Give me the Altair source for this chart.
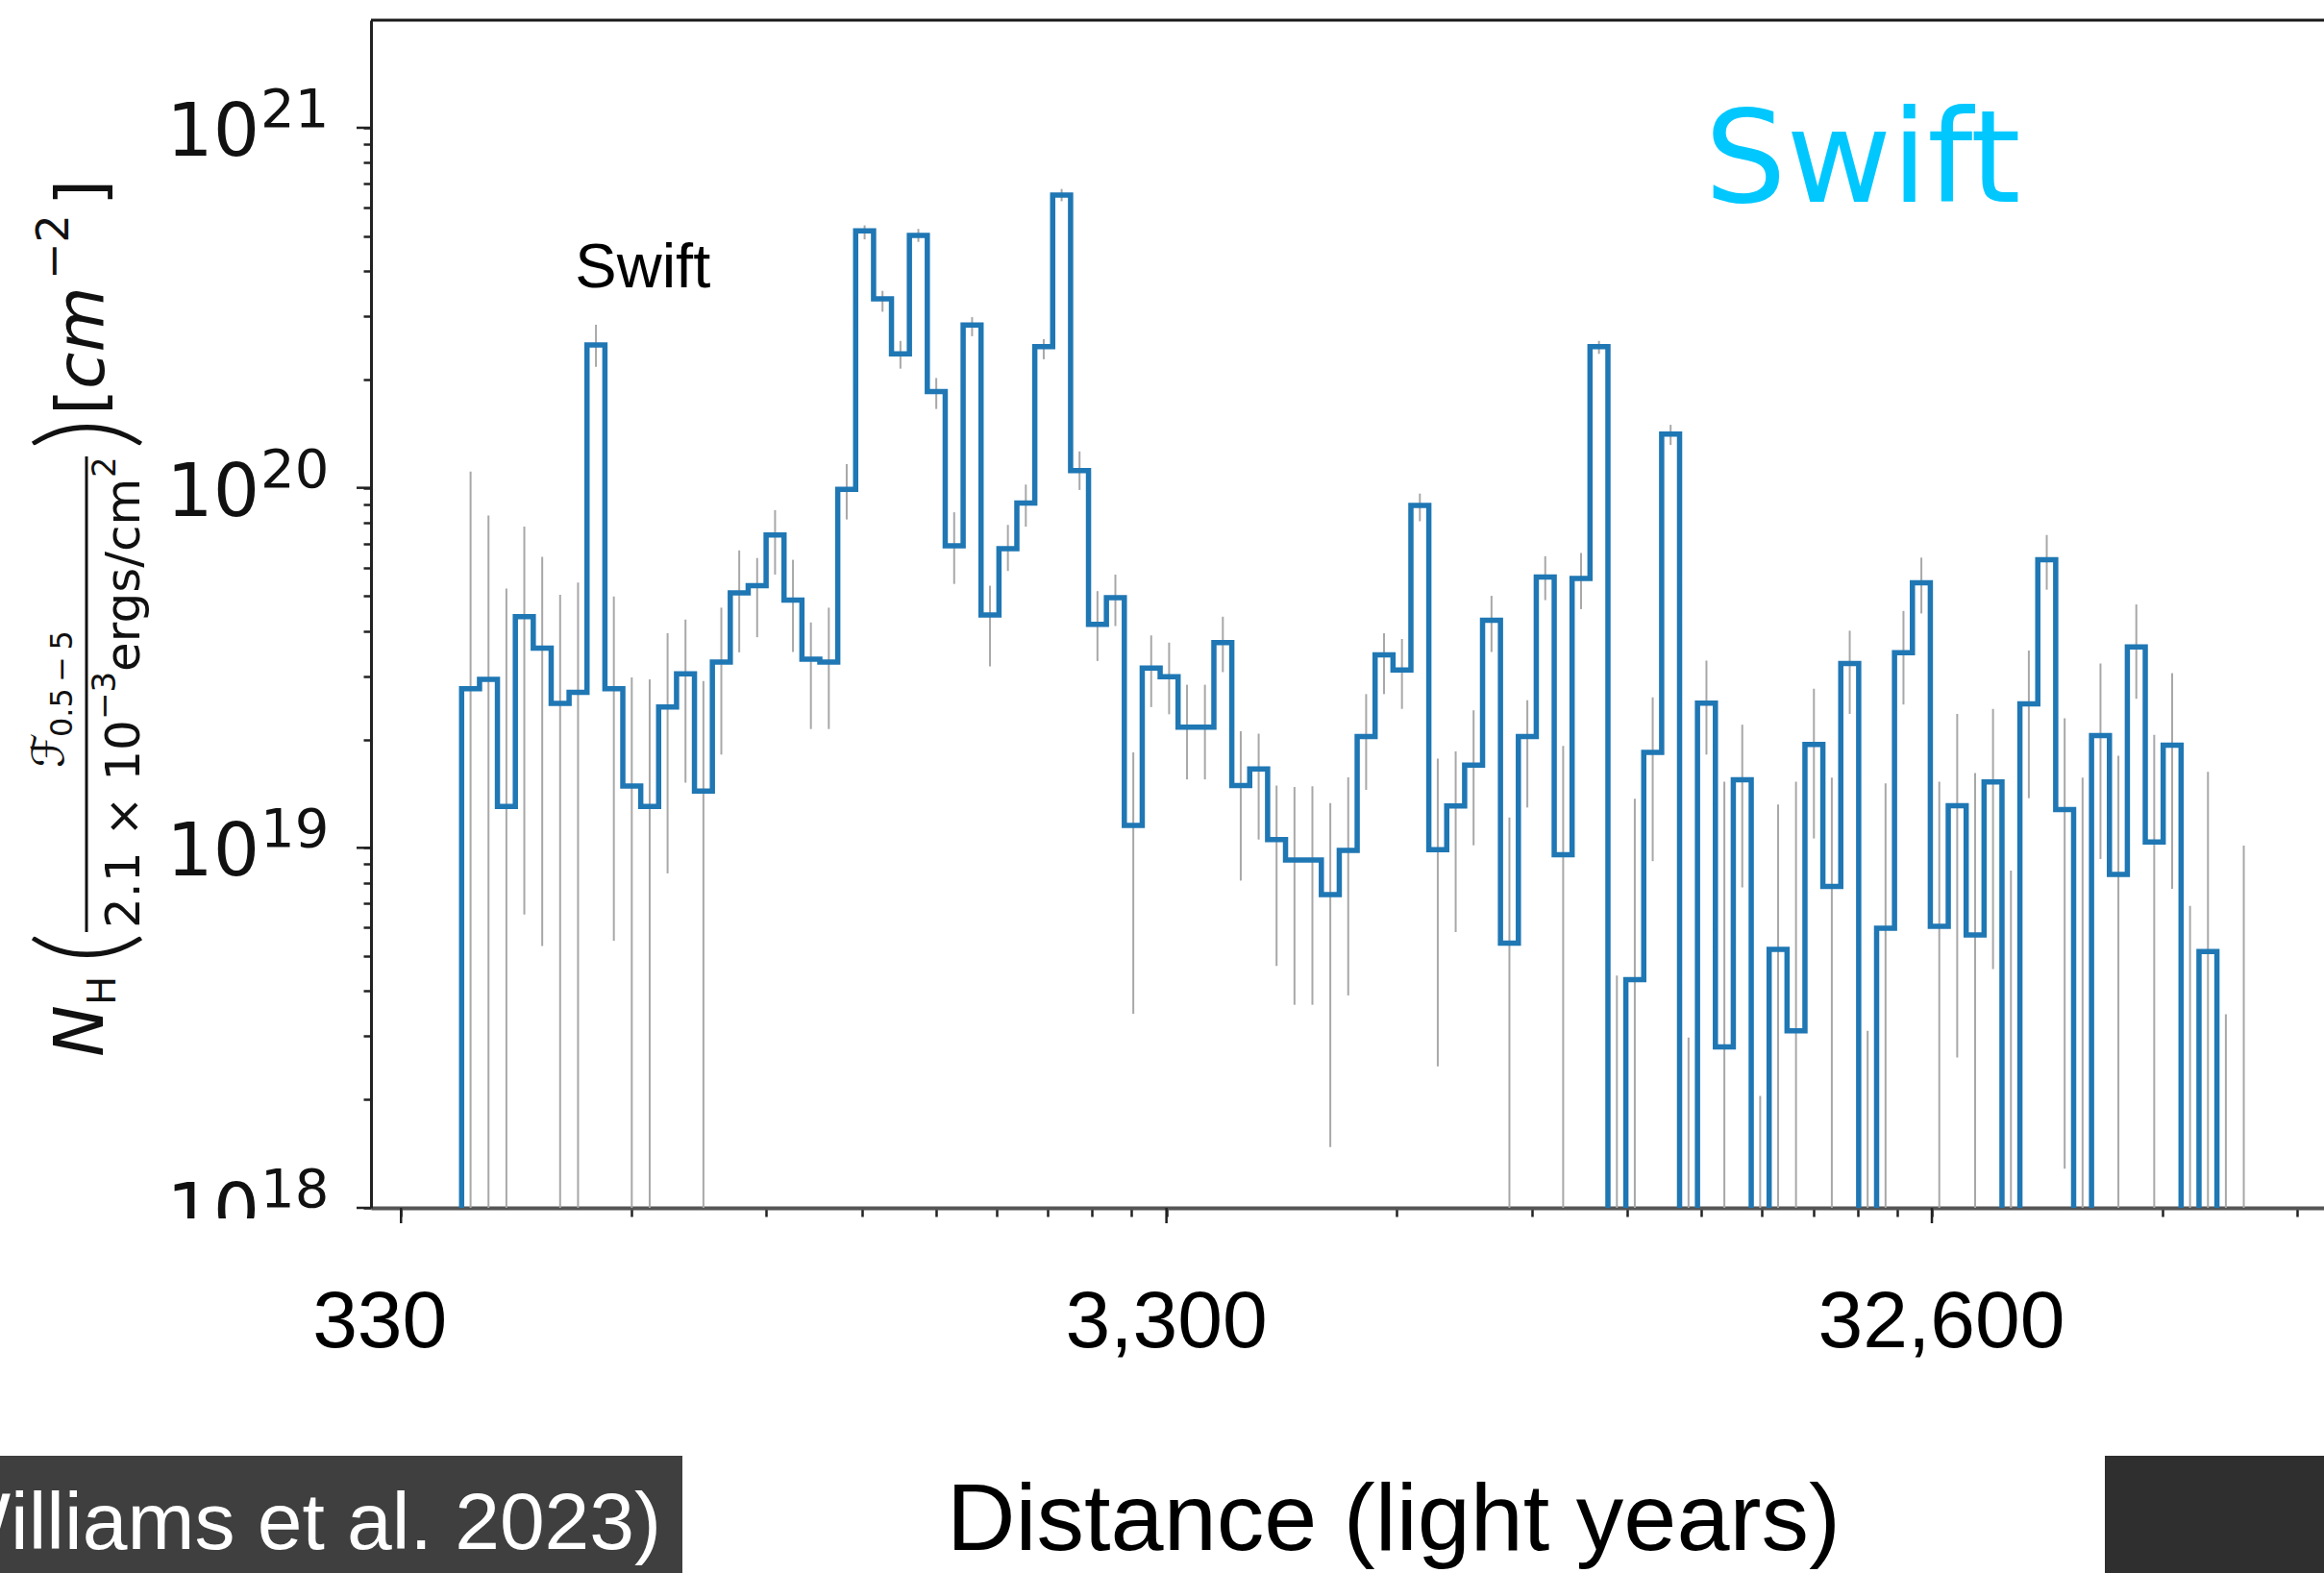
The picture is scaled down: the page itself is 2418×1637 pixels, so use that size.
import numpy as np
import pandas as pd
import altair as alt

# ---------------- data ----------------
PC_TO_LY = 3.2616          # parsec -> light year
BIN_START_PC = 120.0       # left edge of first distance bin (pc)
BIN_STEP_DEX = 0.0234      # bins are equally spaced in log distance

# log10 N_H per bin (0 = no value above the axis floor)
log_nh = [
    19.442, 19.468, 19.115, 19.642, 19.555, 19.401, 19.432, 20.397, 19.442, 19.172,
    19.115, 19.391, 19.483, 19.158, 19.516, 19.708, 19.728, 19.869, 19.688, 19.524,
    19.516, 19.996, 20.714, 20.525, 20.372, 20.701, 20.267, 19.839, 20.452, 19.647,
    19.831, 19.958, 20.392, 20.813, 20.048, 19.621, 19.695, 19.062, 19.499, 19.475,
    19.335, 19.335, 19.570, 19.173, 19.219, 19.023, 18.966, 18.966, 18.870, 18.993,
    19.309, 19.536, 19.494, 19.951, 18.995, 19.116, 19.230, 19.632, 18.735, 19.309,
    19.752, 18.981, 19.748, 20.392, 0, 18.634, 19.265, 20.149, 0, 19.402,
    18.447, 19.189, 0, 18.718, 18.492, 19.287, 18.893, 19.512, 0, 18.777,
    19.542, 19.736, 18.782, 19.117, 18.758, 19.183, 0, 19.400, 19.800, 19.106,
    0, 19.312, 18.926, 19.558, 19.016, 19.285, 0, 18.712, 0, 0,
]
# upper end of the error bar (log10)
log_hi = [
    20.045, 19.923, 19.720, 19.892, 19.808, 19.703, 19.737, 20.453, 19.698, 19.473,
    19.468, 19.596, 19.634, 19.463, 19.667, 19.826, 19.805, 19.938, 19.800, 19.626,
    19.667, 20.066, 20.729, 20.547, 20.408, 20.719, 20.305, 19.932, 20.474, 19.728,
    19.897, 20.009, 20.413, 20.830, 20.101, 19.713, 19.759, 19.265, 19.590, 19.570,
    19.453, 19.453, 19.642, 19.324, 19.317, 19.173, 19.169, 19.171, 19.124, 19.196,
    19.427, 19.596, 19.580, 19.984, 19.248, 19.268, 19.382, 19.700, 19.084, 19.410,
    19.810, 19.283, 19.819, 20.408, 18.645, 19.136, 19.418, 20.175, 18.473, 19.520,
    19.184, 19.342, 18.311, 19.120, 19.184, 19.442, 19.195, 19.603, 18.492, 19.179,
    19.658, 19.806, 19.184, 19.372, 19.208, 19.386, 18.937, 19.548, 19.869, 19.360,
    19.195, 19.512, 19.256, 19.676, 19.314, 19.485, 18.839, 19.211, 18.538, 19.006,
]
# lower end of the error bar (log10, 0 = reaches below the axis)
log_lo = [
    0, 0, 0, 18.815, 18.727, 0, 0, 20.336, 18.742, 0,
    0, 18.929, 19.181, 0, 19.259, 19.543, 19.585, 19.759, 19.544, 19.330,
    19.330, 19.912, 20.690, 20.489, 20.331, 20.683, 20.219, 19.733, 20.421, 19.504,
    19.769, 19.892, 20.357, 20.796, 19.994, 19.519, 19.616, 18.539, 19.391, 19.371,
    19.190, 19.190, 19.488, 18.909, 19.023, 18.672, 18.564, 18.564, 18.169, 18.590,
    19.161, 19.427, 19.386, 19.907, 18.393, 18.766, 19.007, 19.544, 0, 19.112,
    19.688, 0, 19.663, 20.372, 0, 0, 18.963, 20.119, 0, 19.259,
    0, 18.890, 0, 0, 0, 19.026, 0, 19.372, 0, 0,
    19.398, 19.651, 0, 18.418, 0, 18.663, 0, 19.138, 19.717, 18.109,
    0, 18.969, 0, 19.414, 0, 18.886, 0, 0, 0, 0,
]

x_tick_pc_major = [100, 1000, 10000]
x_tick_labels = ["330", "3,300", "32,600"]
x_tick_pc_minor = [200, 300, 400, 500, 600, 700, 800, 900,
                   2000, 3000, 4000, 5000, 6000, 7000, 8000, 9000,
                   20000, 30000]
y_decades = [18, 19, 20, 21]
y_minor_mult = [2, 3, 4, 5, 6, 7, 8, 9]

# ---------------- layout ----------------
W, H = 2032, 1236
PAD_L, PAD_T = 386, 21
X_DOMAIN_LY = [298.0, 106100.0]
Y_DOMAIN = [1e18, 1.99e21]
FLOOR = 1e16
BLUE = "#1f77b4"
INK = "#111111"

n = len(log_nh)
edges_ly = BIN_START_PC * 10 ** (BIN_STEP_DEX * np.arange(n + 1)) * PC_TO_LY
centers_ly = np.sqrt(edges_ly[:-1] * edges_ly[1:])


def lin(v):
    return 10 ** v if v > 0 else FLOOR


line_rows = [{"i": 0, "x": edges_ly[0], "y": FLOOR}]
for k in range(n):
    line_rows.append({"i": k + 1, "x": edges_ly[k], "y": lin(log_nh[k])})
line_rows.append({"i": n + 1, "x": edges_ly[n], "y": FLOOR})
line_df = pd.DataFrame(line_rows)

err_df = pd.DataFrame({
    "x": centers_ly,
    "lo": [lin(v) for v in log_lo],
    "hi": [lin(v) for v in log_hi],
})

x_all = [p * PC_TO_LY for p in sorted(x_tick_pc_major + x_tick_pc_minor)]
y_all = [m * 10.0 ** d for d in y_decades[:-1] for m in [1] + y_minor_mult] + [10.0 ** y_decades[-1]]

xscale = alt.Scale(type="log", domain=X_DOMAIN_LY, nice=False)
yscale = alt.Scale(type="log", domain=Y_DOMAIN, nice=False)
xaxis = alt.Axis(values=x_all, labels=False, title=None, grid=False, tickSize=9,
                 tickWidth=2.5, tickColor="#222222", domainColor="#555555", domainWidth=4)
yaxis = alt.Axis(values=y_all, labels=False, title=None, grid=False, tickSize=8,
                 tickWidth=2.5, tickColor="#222222", domainColor="#222222", domainWidth=3)


def X(f):
    return alt.X(f, type="quantitative", scale=xscale, axis=xaxis)


def Y(f):
    return alt.Y(f, type="quantitative", scale=yscale, axis=yaxis)


ONE = alt.Data(values=[{"a": 1}])
layers = []

# slide boxes at the bottom
layers.append(alt.Chart(ONE).mark_rect(color="#3f3f3f").encode(
    x=alt.value(-PAD_L), x2=alt.value(710 - PAD_L),
    y=alt.value(1515 - PAD_T), y2=alt.value(1640 - PAD_T)))
layers.append(alt.Chart(ONE).mark_rect(color="#2f2f2f").encode(
    x=alt.value(2190 - PAD_L), x2=alt.value(2420 - PAD_L),
    y=alt.value(1515 - PAD_T), y2=alt.value(1640 - PAD_T)))

# error bars
layers.append(alt.Chart(err_df).mark_rule(color="#a8a8a8", strokeWidth=2, clip=True).encode(
    x=X("x"), y=Y("lo"), y2=alt.Y2("hi")))

# step line
layers.append(alt.Chart(line_df).mark_line(interpolate="step-after", color=BLUE, strokeWidth=5.5,
                                           clip=True, strokeJoin="miter").encode(
    x=X("x"), y=Y("y"), order=alt.Order("i:Q")))

# top frame line
layers.append(alt.Chart(ONE).mark_rule(color="#1a1a1a", strokeWidth=3).encode(
    x=alt.value(0), x2=alt.value(W), y=alt.value(0)))

# major ticks
xmaj_df = pd.DataFrame({"x": [p * PC_TO_LY for p in x_tick_pc_major], "label": x_tick_labels})
layers.append(alt.Chart(xmaj_df).mark_rule(color="#222222", strokeWidth=2.5).encode(
    x=X("x"), y=alt.value(H), y2=alt.value(H + 16)))
ymaj_df = pd.DataFrame({"v": [10.0 ** d for d in y_decades], "e": [str(d) for d in y_decades]})
layers.append(alt.Chart(ymaj_df).mark_rule(color="#222222", strokeWidth=2.5).encode(
    y=Y("v"), x=alt.value(-15), x2=alt.value(0)))

# y tick labels 10^n
layers.append(alt.Chart(ymaj_df).mark_text(align="right", baseline="alphabetic", font="DejaVu Sans",
                                           fontSize=76, color=INK, dy=29).encode(
    y=Y("v"), x=alt.value(-116), text=alt.value("10")))
layers.append(alt.Chart(ymaj_df).mark_text(align="left", baseline="alphabetic", font="DejaVu Sans",
                                           fontSize=56, color=INK, dy=-1).encode(
    y=Y("v"), x=alt.value(-115), text=alt.Text("e:N")))
# white mask hiding the lower half of the bottom label (as in the slide)
layers.append(alt.Chart(ONE).mark_rect(color="white").encode(
    x=alt.value(-240), x2=alt.value(-117), y=alt.value(1247), y2=alt.value(1310)))

# x tick labels
for (xv, lab), dx in zip(zip(xmaj_df["x"], x_tick_labels), [-22, 0, 10]):
    d = pd.DataFrame({"x": [xv], "label": [lab]})
    layers.append(alt.Chart(d).mark_text(align="center", baseline="alphabetic", font="Liberation Sans",
                                         fontSize=84, color="black", dx=dx).encode(
        x=X("x"), y=alt.value(1402 - PAD_T), text=alt.Text("label:N")))

# x title and citation
layers.append(alt.Chart(ONE).mark_text(align="center", baseline="alphabetic", font="Liberation Sans",
                                       fontSize=99, color="black").encode(
    x=alt.value(1450 - PAD_L), y=alt.value(1613 - PAD_T), text=alt.value("Distance (light years)")))
layers.append(alt.Chart(ONE).mark_text(align="right", baseline="alphabetic", font="Liberation Sans",
                                       fontSize=84, color="white").encode(
    x=alt.value(688 - PAD_L), y=alt.value(1612 - PAD_T), text=alt.value("(Williams et al. 2023)")))

# annotations
sw_df = pd.DataFrame({"x": [675.0], "y": [3.6e20], "t": ["Swift"]})
layers.append(alt.Chart(sw_df).mark_text(align="center", baseline="alphabetic", font="Liberation Sans",
                                         fontSize=65, color="black").encode(
    x=X("x"), y=Y("y"), text=alt.Text("t:N")))
layers.append(alt.Chart(ONE).mark_text(align="center", baseline="alphabetic", font="DejaVu Sans",
                                       fontSize=134, color="#00C8FF").encode(
    x=alt.value(1938 - PAD_L), y=alt.value(210 - PAD_T), text=alt.value("Swift")))


# rotated y-axis title built from pieces (x = baseline, y = start of text)
def rot(txt, xb, ys, size, italic=False, font="DejaVu Sans", weight=400):
    return alt.Chart(ONE).mark_text(angle=270, align="left", baseline="alphabetic", font=font,
                                    fontSize=size, fontStyle="italic" if italic else "normal",
                                    fontWeight=weight, color=INK).encode(
        x=alt.value(xb - PAD_L), y=alt.value(ys - PAD_T), text=alt.value(txt))


pieces = [
    ("N", 107, 1100, 72, True),
    ("H", 120, 1046, 40, False),
    ("\u2131", 66, 799, 46, False),
    ("0.5\u2009\u2212\u20095", 75, 767, 32, False),
    ("2.1 \u00d7 10", 145, 966, 50, False),
    ("\u22123", 120, 749, 34, False),
    ("ergs/cm", 145, 699, 50, False),
    ("2", 120, 497, 34, False),
    ("[", 108, 432, 70, False),
    ("cm", 108, 405, 70, True),
    ("\u22122", 71, 291, 46, False),
    ("]", 108, 214, 70, False),
]
for p in pieces:
    layers.append(rot(*p))
# tall thin parentheses
layers.append(rot("(", 131, 1003, 128, False, "Lato", 300))
layers.append(rot(")", 131, 468, 128, False, "Lato", 300))
# fraction bar
layers.append(alt.Chart(ONE).mark_rule(color=INK, strokeWidth=3).encode(
    x=alt.value(90 - PAD_L), y=alt.value(475 - PAD_T), y2=alt.value(970 - PAD_T)))

chart = alt.layer(*layers).properties(
    width=W, height=H,
    autosize=alt.AutoSizeParams(type="none"),
    padding={"left": PAD_L, "top": PAD_T, "right": 0, "bottom": 1637 - PAD_T - H},
    background="white",
).configure_view(stroke="transparent")

chart.save("out.html", embed_options={"renderer": "svg", "actions": False})
